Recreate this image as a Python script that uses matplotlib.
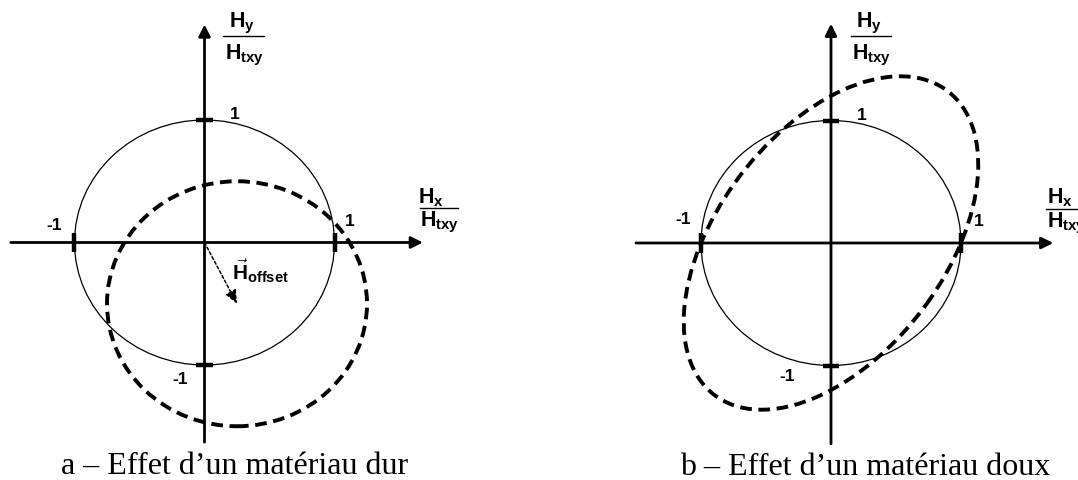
import matplotlib
matplotlib.use('Agg')
import matplotlib.pyplot as plt
from matplotlib.patches import Ellipse

plt.rcParams['mathtext.fontset'] = 'custom'
plt.rcParams['mathtext.rm'] = 'Liberation Sans:bold'
plt.rcParams['mathtext.it'] = 'Liberation Sans:bold'
plt.rcParams['mathtext.bf'] = 'Liberation Sans:bold'
plt.rcParams['mathtext.sf'] = 'Liberation Sans:bold'

# ---------------- data (normalised units H / H_txy) ----------------
unit_circle_diameter = 2.0
tick_values = [-1, 1]
tick_texts = ['-1', '1']

# panel a: hard material -> circle shifted by H_offset
hard_center = (0.25, -0.5)
hard_diameters = (2.0, 2.0)
offset_vector = hard_center

# panel b: soft material -> tilted ellipse through (+-1, 0)
soft_center = (0.0, 0.0)
soft_diameters = (3.064, 1.776)
soft_angle = 55.7

captions = ['a – Effet d’un matériau dur', 'b – Effet d’un matériau doux']
y_label_num = r'$H_{y}$'
x_label_num = r'$H_{x}$'
label_den = r'$H_{txy}$'
offset_label = r'$\vec{H}_{offset}$'

# ---------------- layout ----------------
W, H = 1078, 481
UX, UY = 130.0, 122.5
fig = plt.figure(figsize=(W / 100, H / 100), dpi=100)


def make_panel(px0, px1, ox, oy):
    ax = fig.add_axes([px0 / W, 0, (px1 - px0) / W, 1])
    ax.set_xlim((px0 - ox) / UX, (px1 - ox) / UX)
    ax.set_ylim((oy - H) / UY, oy / UY)
    ax.axis('off')
    return ax


panels = [
    dict(ax=make_panel(0, 540, 204.5, 243.5), xr=(-1.49, 1.68), yr=(-1.63, 1.78),
         ticklab=[(-1.154, 0.143), (1.12, 0.176), (-0.188, -1.114), (0.235, 1.049)],
         ylab_x=0.29, xlab_x=(1.655, 1.95, 1.745, 1.81), cap=(0.23, -1.882)),
    dict(ax=make_panel(540, 1078, 831, 244), xr=(-1.5, 1.71), yr=(-1.64, 1.79),
         ticklab=[(-1.14, 0.196), (1.14, 0.18), (-0.335, -1.078), (0.238, 1.053)],
         ylab_x=0.30, xlab_x=(1.655, 2.0, 1.76, 1.81), cap=(0.26, -1.882)),
]

arrow_style = '-|>,head_length=0.7,head_width=0.35'
for i, p in enumerate(panels):
    ax = p['ax']
    # axes with arrows
    ax.annotate('', xy=(p['xr'][1], 0), xytext=(p['xr'][0], 0),
                arrowprops=dict(arrowstyle=arrow_style, lw=2.0, color='black',
                                shrinkA=0, shrinkB=0, mutation_scale=10))
    ax.annotate('', xy=(0, p['yr'][1]), xytext=(0, p['yr'][0]),
                arrowprops=dict(arrowstyle=arrow_style, lw=2.0, color='black',
                                shrinkA=0, shrinkB=0, mutation_scale=10))
    # unit circle
    ax.add_patch(Ellipse((0, 0), unit_circle_diameter, unit_circle_diameter,
                         fill=False, lw=0.9, color='black'))
    # tick marks
    for v in tick_values:
        ax.plot([v, v], [-0.078, 0.078], color='black', lw=3.2, solid_capstyle='butt')
        ax.plot([-0.065, 0.065], [v, v], color='black', lw=3.2, solid_capstyle='butt')
    # tick labels: x -1, x 1, y -1, y 1
    for (tx, ty), t in zip(p['ticklab'], tick_texts + tick_texts):
        ax.text(tx, ty, t, ha='center', va='center', fontsize=12.5,
                fontweight='bold', family='Liberation Sans')
    # y axis label (fraction)
    yx = p['ylab_x']
    ax.text(yx - 0.005, 1.767, y_label_num, ha='center', va='baseline', fontsize=15.5)
    ax.plot([yx - 0.15, yx + 0.165], [1.688, 1.688], color='black', lw=1.0)
    ax.text(yx + 0.015, 1.506, label_den, ha='center', va='baseline', fontsize=15.5)
    # x axis label (fraction)
    l0, l1, nx, dx = p['xlab_x']
    ax.plot([l0, l1], [0.279, 0.279], color='black', lw=1.0)
    ax.text(nx, 0.33, x_label_num, ha='center', va='baseline', fontsize=15.5)
    ax.text(dx, 0.137, label_den, ha='center', va='baseline', fontsize=15.5)
    # caption
    ax.text(p['cap'][0], p['cap'][1], captions[i], ha='center', va='baseline',
            fontsize=23, family='Liberation Serif')

# panel a: shifted circle + offset vector
axa = panels[0]['ax']
axa.add_patch(Ellipse(hard_center, *hard_diameters, fill=False, lw=2.8,
                      color='black', linestyle=(0, (3.0, 1.7))))
axa.annotate('', xy=offset_vector, xytext=(0, 0),
             arrowprops=dict(arrowstyle='-|>,head_length=0.8,head_width=0.35',
                             lw=1.1, color='black', linestyle=(0, (2.0, 1.5)),
                             shrinkA=0, shrinkB=0, mutation_scale=10))
axa.text(0.215, -0.298, offset_label, ha='left', va='baseline', fontsize=15)

# panel b: tilted ellipse
axb = panels[1]['ax']
axb.add_patch(Ellipse(soft_center, *soft_diameters, angle=soft_angle, fill=False,
                      lw=2.8, color='black', linestyle=(0, (3.0, 1.7))))

fig.savefig('out.png', dpi=100)
